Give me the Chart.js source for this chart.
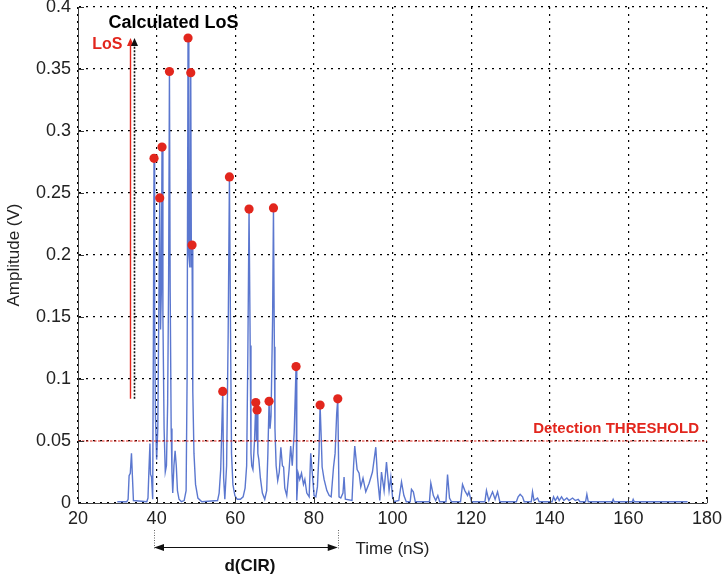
<!DOCTYPE html>
<html>
<head>
<meta charset="utf-8">
<title>CIR amplitude</title>
<script src="https://cdn.jsdelivr.net/npm/chart.js@4.4.1/dist/chart.umd.min.js"></script>
<style>
  html, body { margin: 0; padding: 0; background: #fff; }
  #wrap { width: 722px; height: 578px; }
</style>
</head>
<body>
<div id="wrap"><canvas id="cirChart" width="722" height="578"></canvas></div>
<script>
// Channel impulse response (time in nS, amplitude in V)
const cirTime = [
    30.0, 32.4, 32.75, 33.0, 33.3, 33.6, 33.85, 34.1, 37.5, 37.8, 38.05, 38.3, 38.45, 38.7, 39.0,
    39.2, 39.34, 39.5, 39.7, 40.0, 40.3, 40.6, 40.79, 41.0, 41.2, 41.37, 41.6, 41.9, 42.2, 42.5,
    42.8, 43.05, 43.26, 43.45, 43.7, 43.9, 44.1, 44.4, 44.7, 45.0, 45.3, 45.7, 46.3, 47.0, 47.5,
    47.75, 47.99, 48.2, 48.45, 48.68, 48.85, 49.01, 49.2, 49.5, 49.9, 50.5, 51.5, 55.5, 55.9, 56.3,
    56.82, 57.05, 57.35, 57.8, 58.2, 58.52, 58.8, 59.05, 59.4, 59.9, 60.5, 61.3, 62.0, 62.5, 62.9,
    63.2, 63.51, 63.8, 64.0, 64.2, 64.5, 64.9, 65.22, 65.4, 65.55, 65.75, 66.0, 66.4, 66.9, 67.5,
    68.0, 68.3, 68.6, 68.85, 69.1, 69.5, 69.72, 69.95, 70.1, 70.4, 70.8, 71.2, 71.6, 72.0, 72.3,
    72.6, 73.1, 73.7, 74.1, 74.5, 75.0, 75.47, 75.65, 76.0, 76.4, 76.85, 77.35, 77.7, 78.2, 78.8,
    79.2, 79.6, 80.05, 80.5, 80.9, 81.3, 81.58, 81.9, 82.1, 82.6, 83.3, 83.9, 84.4, 85.0, 85.4,
    85.8, 86.08, 86.4, 86.85, 87.4, 87.68, 88.0, 89.7, 90.1, 90.4, 91.0, 91.5, 91.93, 92.5, 93.2,
    94.05, 94.9, 95.75, 96.18, 96.77, 97.2, 97.86, 98.47, 99.13, 99.57, 100.0, 100.4, 101.6, 102.29, 102.9,
    103.5, 104.5, 104.83, 105.3, 105.8, 109.4, 109.75, 110.4, 111.0, 111.53, 112.0, 113.6, 114.0, 114.5, 115.0,
    117.3, 117.81, 118.4, 119.09, 119.42, 120.1, 123.5, 123.9, 124.5, 125.45, 126.1, 126.72, 127.3, 131.5, 131.96,
    132.47, 133.08, 133.5, 135.3, 135.62, 136.0, 136.9, 137.3, 140.6, 140.97, 141.4, 141.98, 142.4, 143.0, 143.6,
    144.35, 144.9, 145.8, 146.5, 147.23, 147.7, 149.1, 149.44, 149.8, 155.9, 156.13, 156.4, 161.0, 161.22, 161.5,
    175.06
];
const cirAmp = [
    0.001, 0.001, 0.003, 0.022, 0.024, 0.040, 0.021, 0.002, 0.001, 0.004, 0.027, 0.048, 0.023, 0.021, 0.003,
    0.15, 0.278, 0.15, 0.07, 0.035, 0.06, 0.17, 0.246, 0.14, 0.17, 0.287, 0.15, 0.06, 0.025, 0.03,
    0.08, 0.18, 0.348, 0.17, 0.06, 0.025, 0.008, 0.03, 0.042, 0.03, 0.01, 0.003, 0.001, 0.002, 0.01,
    0.1, 0.375, 0.2, 0.19, 0.347, 0.19, 0.208, 0.09, 0.04, 0.015, 0.004, 0.001, 0.002, 0.008, 0.027,
    0.090, 0.02, 0.003, 0.03, 0.137, 0.263, 0.137, 0.04, 0.015, 0.006, 0.003, 0.003, 0.005, 0.012, 0.03,
    0.119, 0.237, 0.127, 0.04, 0.03, 0.027, 0.05, 0.081, 0.05, 0.075, 0.04, 0.035, 0.02, 0.008, 0.003,
    0.01, 0.04, 0.082, 0.06, 0.07, 0.148, 0.238, 0.126, 0.06, 0.03, 0.018, 0.025, 0.045, 0.03, 0.029,
    0.012, 0.006, 0.027, 0.046, 0.03, 0.057, 0.110, 0.002, 0.024, 0.019, 0.024, 0.015, 0.019, 0.008, 0.005,
    0.040, 0.024, 0.006, 0.005, 0.013, 0.040, 0.079, 0.05, 0.029, 0.019, 0.010, 0.006, 0.005, 0.029, 0.040,
    0.072, 0.084, 0.005, 0.004, 0.008, 0.021, 0.003, 0.002, 0.03, 0.046, 0.027, 0.024, 0.013, 0.020, 0.009,
    0.016, 0.025, 0.045, 0.021, 0.002, 0.025, 0.010, 0.033, 0.010, 0.021, 0.005, 0.001, 0.002, 0.017, 0.006,
    0.001, 0.001, 0.011, 0.009, 0.001, 0.001, 0.016, 0.006, 0.002, 0.006, 0.001, 0.001, 0.023, 0.004, 0.001,
    0.001, 0.015, 0.010, 0.006, 0.009, 0.001, 0.001, 0.010, 0.002, 0.009, 0.003, 0.009, 0.001, 0.001, 0.005,
    0.007, 0.005, 0.001, 0.001, 0.009, 0.002, 0.004, 0.001, 0.001, 0.005, 0.002, 0.005, 0.002, 0.005, 0.002,
    0.004, 0.002, 0.004, 0.002, 0.003, 0.001, 0.001, 0.007, 0.001, 0.001, 0.003, 0.001, 0.001, 0.003, 0.001,
    0.001
];

// Detected multipath peaks (red dots)
const peakTime = [39.34, 40.79, 41.37, 43.26, 47.99, 48.68, 49.01, 56.82, 58.52, 63.51, 65.22, 65.55, 68.6, 69.72, 75.47, 81.58, 86.08];
const peakAmp = [0.278, 0.246, 0.287, 0.348, 0.375, 0.347, 0.208, 0.090, 0.263, 0.237, 0.081, 0.075, 0.082, 0.238, 0.110, 0.079, 0.084];

// Detection threshold and line-of-sight markers
const threshold = 0.05;
const losTime = 33.23;       // real LoS
const calcLosTime = 34.25;   // calculated LoS
const losArrowBase = 0.084;

// Axis ticks
const xTicks = [20, 40, 60, 80, 100, 120, 140, 160, 180];
const xTickLabels = ['20', '40', '60', '80', '100', '120', '140', '160', '180'];
const yTicks = [0, 0.05, 0.1, 0.15, 0.2, 0.25, 0.3, 0.35, 0.4];
const yTickLabels = ['0', '0.05', '0.1', '0.15', '0.2', '0.25', '0.3', '0.35', '0.4'];

const FONT = '"Liberation Sans", Arial, Helvetica, sans-serif';
const RED = '#e2261d';

function arrowHead(ctx, x, y, dir, len, half, color) {
    ctx.save();
    ctx.fillStyle = color;
    ctx.beginPath();
    if (dir === 'up') {
        ctx.moveTo(x, y);
        ctx.lineTo(x - half, y + len);
        ctx.lineTo(x + half, y + len);
    } else if (dir === 'left') {
        ctx.moveTo(x, y);
        ctx.lineTo(x + len, y - half);
        ctx.lineTo(x + len, y + half);
    } else {
        ctx.moveTo(x, y);
        ctx.lineTo(x - len, y - half);
        ctx.lineTo(x - len, y + half);
    }
    ctx.closePath();
    ctx.fill();
    ctx.restore();
}

// Arrows, labels and inward tick marks (MATLAB style)
const annotations = {
    id: 'annotations',
    afterDraw(chart) {
        const ctx = chart.ctx;
        const xs = chart.scales.x;
        const ys = chart.scales.y;
        const area = chart.chartArea;

        ctx.save();

        // inward ticks
        ctx.strokeStyle = '#333';
        ctx.lineWidth = 1;
        ctx.beginPath();
        yTicks.forEach(function(v) {
            const py = Math.round(ys.getPixelForValue(v)) + 0.5;
            ctx.moveTo(area.left, py);
            ctx.lineTo(area.left + 6, py);
        });
        xTicks.forEach(function(v) {
            const px = Math.round(xs.getPixelForValue(v)) + 0.5;
            ctx.moveTo(px, area.bottom);
            ctx.lineTo(px, area.bottom - 6);
        });
        ctx.stroke();

        // threshold label
        const thY = ys.getPixelForValue(threshold);
        ctx.fillStyle = RED;
        ctx.font = 'bold 15px ' + FONT;
        ctx.textAlign = 'right';
        ctx.textBaseline = 'alphabetic';
        ctx.fillText('Detection THRESHOLD', area.right - 8, thY - 8);

        // LoS arrows
        const topY = ys.getPixelForValue(Math.max.apply(null, peakAmp));
        const baseY = ys.getPixelForValue(losArrowBase);
        const losX = Math.round(xs.getPixelForValue(losTime)) + 0.5;
        const calcX = Math.round(xs.getPixelForValue(calcLosTime)) + 0.5;

        ctx.strokeStyle = RED;
        ctx.lineWidth = 1.4;
        ctx.beginPath();
        ctx.moveTo(losX, baseY);
        ctx.lineTo(losX, topY + 6);
        ctx.stroke();
        arrowHead(ctx, losX, topY, 'up', 8, 3.5, RED);

        ctx.strokeStyle = '#111';
        ctx.lineWidth = 1.6;
        ctx.setLineDash([2, 1.5]);
        ctx.beginPath();
        ctx.moveTo(calcX, baseY);
        ctx.lineTo(calcX, topY + 6);
        ctx.stroke();
        ctx.setLineDash([]);
        arrowHead(ctx, calcX, topY, 'up', 8, 3.5, '#111');

        ctx.textAlign = 'left';
        ctx.fillStyle = '#000';
        ctx.font = 'bold 18px ' + FONT;
        ctx.fillText('Calculated LoS', calcX - 26, topY - 10);

        ctx.textAlign = 'right';
        ctx.fillStyle = RED;
        ctx.font = 'bold 16px ' + FONT;
        ctx.fillText('LoS', losX - 8, topY + 11);

        // d(CIR): span from first to last detected peak
        const x1 = xs.getPixelForValue(Math.min.apply(null, peakTime));
        const x2 = xs.getPixelForValue(Math.max.apply(null, peakTime));
        const ay = area.bottom + 44;

        ctx.strokeStyle = '#666';
        ctx.lineWidth = 1;
        ctx.setLineDash([1, 1.5]);
        ctx.beginPath();
        ctx.moveTo(Math.round(x1) + 0.5, area.bottom + 27);
        ctx.lineTo(Math.round(x1) + 0.5, ay + 2);
        ctx.moveTo(Math.round(x2) + 0.5, area.bottom + 27);
        ctx.lineTo(Math.round(x2) + 0.5, ay + 2);
        ctx.stroke();
        ctx.setLineDash([]);

        ctx.strokeStyle = '#111';
        ctx.lineWidth = 1;
        ctx.beginPath();
        ctx.moveTo(x1 + 8, ay + 0.5);
        ctx.lineTo(x2 - 8, ay + 0.5);
        ctx.stroke();
        arrowHead(ctx, x1, ay + 0.5, 'left', 10, 3.5, '#111');
        arrowHead(ctx, x2, ay + 0.5, 'right', 10, 3.5, '#111');

        ctx.fillStyle = '#111';
        ctx.textAlign = 'center';
        ctx.font = 'bold 17px ' + FONT;
        ctx.fillText('d(CIR)', (x1 + x2) / 2 + 4, ay + 24);

        ctx.restore();
    }
};

const gridStyle = {
    color: '#000',
    lineWidth: 1.2,
    drawTicks: false
};

new Chart(document.getElementById('cirChart'), {
    type: 'scatter',
    data: {
        datasets: [{
            label: 'Peaks',
            data: peakTime.map(function(t, i) { return { x: t, y: peakAmp[i] }; }),
            pointRadius: 4.6,
            pointBackgroundColor: RED,
            pointBorderWidth: 0,
            showLine: false
        }, {
            label: 'Threshold',
            data: [{ x: xTicks[0], y: threshold }, { x: xTicks[xTicks.length - 1], y: threshold }],
            showLine: true,
            borderColor: RED,
            borderWidth: 1.2,
            borderDash: [2.5, 1.5],
            pointRadius: 0
        }, {
            label: 'CIR',
            data: cirTime.map(function(t, i) { return { x: t, y: cirAmp[i] }; }),
            showLine: true,
            borderColor: 'rgba(50, 85, 195, 0.8)',
            borderWidth: 1.4,
            pointRadius: 0,
            tension: 0
        }]
    },
    options: {
        responsive: false,
        animation: false,
        devicePixelRatio: 1,
        layout: {
            padding: { left: 0, right: 15, top: 7, bottom: 0 }
        },
        plugins: {
            legend: { display: false },
            tooltip: { enabled: false }
        },
        scales: {
            x: {
                type: 'linear',
                min: 20,
                max: 180,
                afterBuildTicks: function(axis) {
                    axis.ticks = xTicks.map(function(v) { return { value: v }; });
                },
                afterFit: function(axis) {
                    axis.height = 75;
                    axis.paddingLeft = 0;
                    axis.paddingRight = 0;
                },
                grid: gridStyle,
                border: { display: true, color: '#444', width: 1, dash: [2, 5] },
                ticks: {
                    padding: 5,
                    color: '#222',
                    font: { family: FONT, size: 18 },
                    maxRotation: 0,
                    callback: function(value, index) { return xTickLabels[index]; }
                },
                title: {
                    display: true,
                    text: 'Time (nS)',
                    color: '#222',
                    font: { family: FONT, size: 17 },
                    padding: { top: 0, bottom: 18 }
                }
            },
            y: {
                type: 'linear',
                min: 0,
                max: 0.4,
                afterBuildTicks: function(axis) {
                    axis.ticks = yTicks.map(function(v) { return { value: v }; });
                },
                afterFit: function(axis) {
                    axis.width = 78;
                    axis.paddingTop = 0;
                    axis.paddingBottom = 0;
                },
                grid: gridStyle,
                border: { display: true, color: '#444', width: 1, dash: [2, 5] },
                ticks: {
                    padding: 7,
                    color: '#222',
                    font: { family: FONT, size: 18 },
                    callback: function(value, index) { return yTickLabels[index]; }
                },
                title: {
                    display: true,
                    text: 'Amplitude (V)',
                    color: '#222',
                    font: { family: FONT, size: 17 },
                    padding: { top: 4, bottom: 4 }
                }
            }
        }
    },
    plugins: [annotations]
});
</script>
</body>
</html>
